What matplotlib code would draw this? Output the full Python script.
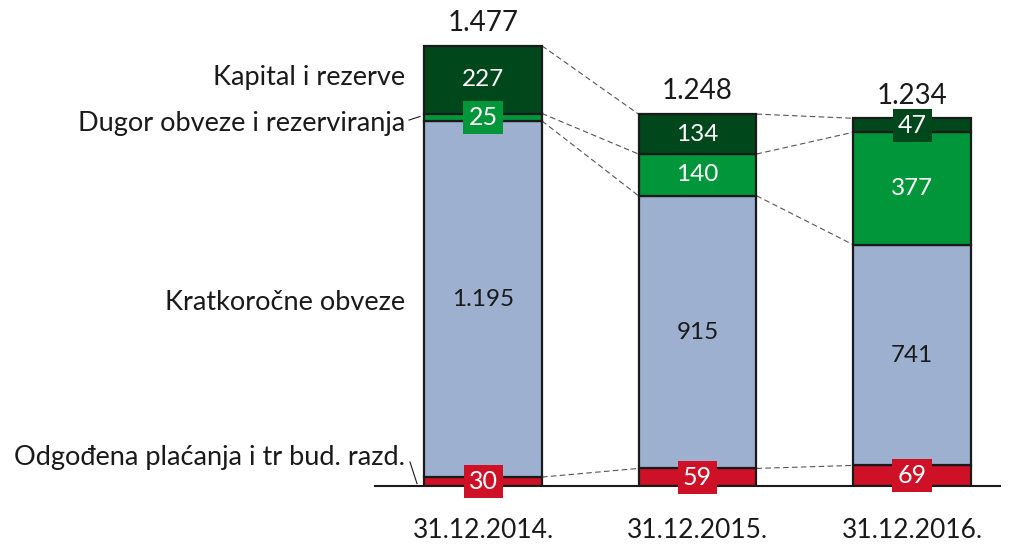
import matplotlib
matplotlib.use("Agg")
import matplotlib.pyplot as plt

plt.rcParams['font.family'] = ['Lato', 'DejaVu Sans']

categories = ["31.12.2014.", "31.12.2015.", "31.12.2016."]
series_names = ["Odgođena plaćanja i tr bud. razd.", "Kratkoročne obveze",
                "Dugor obveze i rezerviranja", "Kapital i rezerve"]
odgodena = [30, 59, 69]
kratkorocne = [1195, 915, 741]
dugor = [25, 140, 377]
kapital = [227, 134, 47]
totals = [1477, 1248, 1234]

colors = ["#CE1126", "#9DB0CF", "#009639", "#00471B"]
series = [odgodena, kratkorocne, dugor, kapital]

def fmt(v):
    return f"{v:,}".replace(",", ".")

W, H = 1015, 547
fig = plt.figure(figsize=(W / 100, H / 100), dpi=100)
ax_left, ax_right = 375, 1000
base_px, top_px = 486, 10
ax = fig.add_axes([ax_left / W, (H - base_px) / H, (ax_right - ax_left) / W, (base_px - top_px) / H])
px_per_x = 214.5
ax.set_xlim((ax_left - 483) / px_per_x, (ax_right - 483) / px_per_x)
px_per_y = 0.298
ax.set_ylim(0, (base_px - top_px) / px_per_y)
ax.axis('off')

x = list(range(len(categories)))
width = 0.55
bottoms = [0] * 3
tops_all = []
for si, (vals, col) in enumerate(zip(series, colors)):
    ax.bar(x, vals, width, bottom=bottoms, color=col, edgecolor="#1a1a1a", linewidth=1.6, zorder=2)
    new_b = [b + v for b, v in zip(bottoms, vals)]
    for i in x:
        mid = bottoms[i] + vals[i] / 2
        boxed = vals[i] < 60 or si == 0
        tc = "#1a1a1a" if si == 1 else "white"
        if boxed:
            ax.text(i, mid, fmt(vals[i]), ha='center', va='center', color='white', fontsize=18, zorder=5,
                    bbox=dict(boxstyle='square,pad=0.2', fc=col, ec='none'))
        else:
            ax.text(i, mid, fmt(vals[i]), ha='center', va='center', color=tc, fontsize=17.5, zorder=5)
    tops_all.append(new_b)
    bottoms = new_b

# connector lines
for si in range(len(series)):
    for i in range(len(categories) - 1):
        ax.plot([i + width / 2, i + 1 - width / 2], [tops_all[si][i], tops_all[si][i + 1]],
                color="#555555", lw=0.8, ls=(0, (5, 3)), zorder=1)

# totals
for i in x:
    ax.text(i, totals[i] + 76, fmt(totals[i]), ha='center', va='center', fontsize=20, color='#1a1a1a')

# baseline
ax.plot([ax.get_xlim()[0], ax.get_xlim()[1]], [0, 0], color='#1a1a1a', lw=1.5, zorder=3, clip_on=False)

# category labels
for i in x:
    ax.text(i, -148, categories[i], ha='center', va='center', fontsize=19, color='#1a1a1a')

# left series labels
lx = (405 - 483) / px_per_x
fs_l = 19.5
ax.text(lx, (base_px - 78) / px_per_y, series_names[3], ha='right', va='center', fontsize=fs_l, color='#1a1a1a', clip_on=False)
ax.text(lx, (base_px - 124) / px_per_y, series_names[2], ha='right', va='center', fontsize=fs_l, color='#1a1a1a', clip_on=False)
ax.text(lx, (base_px - 302) / px_per_y, series_names[1], ha='right', va='center', fontsize=fs_l, color='#1a1a1a', clip_on=False)
ax.text(lx, (base_px - 458) / px_per_y, series_names[0], ha='right', va='center', fontsize=fs_l, color='#1a1a1a', clip_on=False)
# leader lines
ax.plot([(409 - 483) / px_per_x, (420 - 483) / px_per_x], [1228, 1240], color='#1a1a1a', lw=0.8, clip_on=False)
ax.plot([(410 - 483) / px_per_x, (417 - 483) / px_per_x], [(base_px - 462) / px_per_y, 8], color='#1a1a1a', lw=0.8, clip_on=False)

fig.savefig("out.png", dpi=100)
